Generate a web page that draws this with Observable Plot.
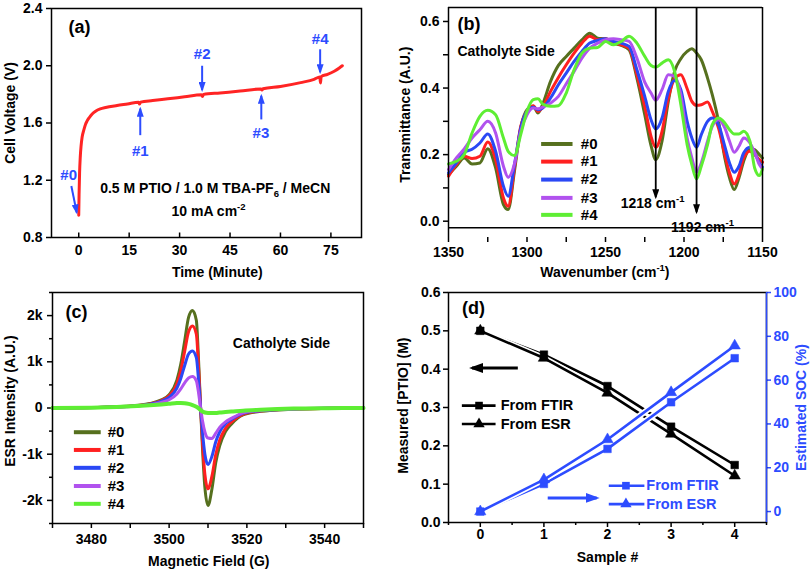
<!DOCTYPE html>
<html><head><meta charset="utf-8">
<script src="https://cdn.jsdelivr.net/npm/d3@7"></script>
<script src="https://cdn.jsdelivr.net/npm/@observablehq/plot@0.6"></script>
<style>
html,body{margin:0;padding:0;background:#fff}
#fig{position:relative;width:810px;height:571px;background:#fff;overflow:hidden}
#fig svg{position:absolute}
</style>
</head><body><div id="fig"></div>
<script>
// ---------------- DATA ----------------
// (a) charging curve
const timeMin = [0, 0.1, 0.25, 0.45, 0.7, 1.0, 1.5, 2.0, 2.5, 3.2, 4.0, 5.0, 6.4, 8.0, 11.4, 14.5, 17.8, 18.1, 18.4, 22.0, 26.5, 31.5, 36.5, 36.8, 37.1, 42.0, 48.0, 54.2, 54.5, 54.8, 60.0, 66.0, 70.0, 71.7, 71.9, 72.1, 74.0, 76.0, 77.5, 78.4];
const cellVoltage = [0.955, 1.10, 1.25, 1.36, 1.44, 1.50, 1.55, 1.59, 1.615, 1.64, 1.663, 1.682, 1.698, 1.708, 1.722, 1.733, 1.745, 1.732, 1.746, 1.757, 1.769, 1.783, 1.797, 1.785, 1.799, 1.810, 1.823, 1.838, 1.830, 1.839, 1.855, 1.882, 1.905, 1.922, 1.880, 1.924, 1.940, 1.962, 1.984, 2.000];
const aXTicks = [0, 15, 30, 45, 60, 75];
const aYTicks = [0.8, 1.2, 1.6, 2.0, 2.4];
const sampleLabels = ["#0", "#1", "#2", "#3", "#4"];
const sampleLabelX = [-3.0, 18.3, 36.7, 54.2, 71.8];
const sampleLabelY = [1.237, 1.403, 2.08, 1.526, 2.185];
const sampleArrowX1 = [-2.2, 18.3, 36.7, 54.3, 71.8];
const sampleArrowY1 = [1.16, 1.515, 2.00, 1.625, 2.115];
const sampleArrowX2 = [-0.6, 18.3, 36.7, 54.3, 71.8];
const sampleArrowY2 = [0.975, 1.70, 1.83, 1.79, 1.955];
const aNoteText = ["0.5 M PTIO / 1.0 M TBA-PF_{6} / MeCN", "10 mA cm^{-2}"];
const aNoteX = [40.6, 38.6];
const aNoteY = [1.145, 0.983];

// (b) FTIR spectra
const wavenumber = [1350, 1345, 1340, 1335, 1330, 1325, 1320, 1315, 1312, 1308, 1304, 1300, 1296, 1293, 1290, 1285, 1280, 1275, 1270, 1265, 1260, 1255, 1250, 1245, 1240, 1235, 1230, 1225, 1221, 1218, 1214, 1210, 1206, 1202, 1198, 1195, 1192, 1189, 1185, 1182, 1178, 1174, 1171, 1168, 1165, 1162, 1158, 1155, 1152, 1150];
const ftir0 = [0.14, 0.165, 0.19, 0.172, 0.175, 0.218, 0.16, 0.05, 0.035, 0.15, 0.28, 0.335, 0.345, 0.325, 0.352, 0.42, 0.468, 0.495, 0.52, 0.545, 0.565, 0.55, 0.548, 0.535, 0.528, 0.515, 0.43, 0.32, 0.227, 0.185, 0.24, 0.36, 0.45, 0.488, 0.51, 0.518, 0.505, 0.485, 0.43, 0.38, 0.30, 0.19, 0.13, 0.095, 0.13, 0.18, 0.218, 0.215, 0.2, 0.19];
const ftir1 = [0.135, 0.17, 0.195, 0.188, 0.195, 0.238, 0.185, 0.07, 0.045, 0.16, 0.285, 0.33, 0.347, 0.33, 0.343, 0.39, 0.432, 0.47, 0.505, 0.535, 0.556, 0.545, 0.548, 0.537, 0.53, 0.52, 0.44, 0.345, 0.255, 0.222, 0.27, 0.37, 0.428, 0.44, 0.398, 0.36, 0.348, 0.35, 0.358, 0.33, 0.28, 0.2, 0.145, 0.112, 0.14, 0.19, 0.21, 0.2, 0.185, 0.177];
const ftir2 = [0.145, 0.175, 0.207, 0.216, 0.235, 0.262, 0.21, 0.105, 0.075, 0.17, 0.28, 0.33, 0.342, 0.335, 0.34, 0.37, 0.41, 0.445, 0.48, 0.51, 0.535, 0.543, 0.548, 0.54, 0.535, 0.525, 0.455, 0.375, 0.305, 0.277, 0.31, 0.39, 0.423, 0.395, 0.3, 0.25, 0.222, 0.26, 0.3, 0.31, 0.29, 0.225, 0.175, 0.147, 0.165, 0.205, 0.222, 0.205, 0.175, 0.162];
const ftir3 = [0.155, 0.19, 0.217, 0.25, 0.275, 0.3, 0.265, 0.165, 0.132, 0.172, 0.27, 0.32, 0.34, 0.338, 0.343, 0.355, 0.375, 0.413, 0.45, 0.49, 0.52, 0.535, 0.545, 0.548, 0.545, 0.54, 0.49, 0.418, 0.385, 0.363, 0.395, 0.44, 0.435, 0.38, 0.25, 0.19, 0.147, 0.175, 0.24, 0.285, 0.305, 0.28, 0.24, 0.207, 0.225, 0.25, 0.235, 0.207, 0.17, 0.157];
const ftir4 = [0.172, 0.18, 0.2, 0.265, 0.315, 0.333, 0.32, 0.25, 0.21, 0.197, 0.26, 0.33, 0.365, 0.368, 0.352, 0.345, 0.347, 0.385, 0.455, 0.505, 0.52, 0.522, 0.54, 0.53, 0.54, 0.556, 0.535, 0.495, 0.468, 0.463, 0.475, 0.485, 0.45, 0.35, 0.23, 0.17, 0.127, 0.165, 0.23, 0.29, 0.31, 0.295, 0.275, 0.262, 0.262, 0.27, 0.24, 0.16, 0.137, 0.157];
const bXTicks = [1350, 1300, 1250, 1200, 1150];
const bXMinor = [1325, 1275, 1225, 1175];
const bYTicks = [0.0, 0.2, 0.4, 0.6];
const bYMinor = [0.1, 0.3, 0.5];
const peakLabels = ["1218 cm^{-1}", "1192 cm^{-1}"];
const peakWn = [1218, 1192];
const peakTipY = [0.072, 0.027];
const peakLabelX = [1220, 1188.2];
const peakLabelY = [0.052, -0.018];
const bLegendY = [0.232, 0.179, 0.125, 0.070, 0.019];

// (c) ESR spectra
const field = [3470, 3480, 3489, 3495, 3498, 3500, 3502, 3503, 3504, 3505, 3506, 3507, 3507.6, 3508.1, 3508.6, 3509.2, 3510, 3511, 3512, 3513, 3514.5, 3516, 3519, 3523.5, 3532, 3541, 3550];
const esr0 = [0, 10, 36, 96, 175, 290, 600, 950, 1450, 1960, 2110, 1900, 980, 0, -900, -1720, -2110, -1760, -1180, -820, -510, -350, -150, -73, -25, -8, 0];
const esr1 = [0, 9, 33, 88, 160, 265, 520, 810, 1230, 1650, 1775, 1600, 830, 0, -760, -1440, -1750, -1480, -1010, -700, -440, -305, -135, -66, -23, -7, 0];
const esr2 = [0, 9, 30, 80, 145, 230, 430, 640, 920, 1170, 1235, 1090, 570, 0, -540, -1000, -1225, -1050, -730, -520, -340, -250, -115, -58, -21, -6, 0];
const esr3 = [0, 8, 27, 70, 120, 178, 305, 415, 545, 650, 680, 590, 310, 0, -280, -520, -650, -660, -545, -420, -300, -225, -105, -53, -19, -6, 0];
const esr4 = [0, 5, 30, 60, 78, 92, 106, 110, 104, 88, 62, 25, -8, -45, -75, -98, -108, -110, -106, -98, -88, -78, -57, -38, -13, -4, 0];
const cXTicks = [3480, 3500, 3520, 3540];
const cXMinor = [3470, 3490, 3510, 3530, 3550];
const cYTicks = [-2000, -1000, 0, 1000, 2000];
const cYMinor = [-2500, -1500, -500, 500, 1500, 2500];
const cLegendY = [-524, -908, -1295, -1688, -2074];

// (d) concentration / SOC
const sampleNo = [0, 1, 2, 3, 4];
const ptioFTIR = [0.500, 0.438, 0.356, 0.250, 0.150];
const ptioESR = [0.500, 0.429, 0.338, 0.231, 0.122];
const socFTIR = [0, 12.6, 28.6, 49.9, 70.0];
const socESR = [0, 14.6, 32.9, 54.4, 75.7];
const dXTicks = [0, 1, 2, 3, 4];
const dXMinor = [-0.5, 0.5, 1.5, 2.5, 3.5, 4.5];
const dYTicks = [0, 0.1, 0.2, 0.3, 0.4, 0.5, 0.6];
const socTicks = [0, 20, 40, 60, 80, 100];
const socDomain = [-5, 100];
const methods = ["From FTIR", "From ESR"];
const dLegendBlackY = [0.305, 0.257];
const dLegendBlueSOC = [11.8, 3.4];

// ---------------- STYLE ----------------
const FONT = "'Liberation Sans', Arial, Helvetica, sans-serif";
const STYLE = {fontFamily: FONT, fontSize: "14px", fontWeight: "bold", background: "transparent", overflow: "visible", color: "#000"};
const RED = "#ff2424";
const BLUE = "#2d4cff";
const SERIES_COLORS = ["#56701e", "#ff2020", "#2a48f5", "#b152ee", "#5eee33"];
const TICK_UP = {draw(ctx, size) { const l = Math.sqrt(size / Math.PI); ctx.moveTo(0, 0); ctx.lineTo(0, -l); }};
const socToY = s => (s - socDomain[0]) / (socDomain[1] - socDomain[0]) * 0.6;
const yToSoc = v => v / 0.6 * (socDomain[1] - socDomain[0]) + socDomain[0];

// ---------------- HELPERS ----------------
let markerCount = 0;
function fixArrowheads(svg, len, wid, back) {
  const sel = d3.select(svg);
  let defs = sel.select("defs");
  if (defs.empty()) defs = sel.insert("defs", ":first-child");
  sel.selectAll("[marker-end]").each(function () {
    const color = this.getAttribute("stroke") || (this.parentNode && this.parentNode.getAttribute("stroke")) || "black";
    const id = "ah" + (++markerCount);
    defs.append("marker").attr("id", id)
      .attr("viewBox", `0 0 ${len} ${wid}`).attr("refX", len - back).attr("refY", wid / 2)
      .attr("markerWidth", len).attr("markerHeight", wid)
      .attr("markerUnits", "userSpaceOnUse").attr("orient", "auto")
      .append("path").attr("d", `M0,0L${len},${wid / 2}L0,${wid}Z`).attr("fill", color);
    this.setAttribute("marker-end", `url(#${id})`);
  });
}
function richText(svg) {
  d3.select(svg).selectAll("text").each(function () {
    const s = this.textContent;
    if (!/[\^_]\{/.test(s)) return;
    const fs = parseFloat(getComputedStyle(this).fontSize) || 14;
    const el = d3.select(this);
    el.text(null);
    const re = /([\^_])\{([^}]*)\}|([^\^_]+)/g;
    let m, shift = 0;
    while ((m = re.exec(s))) {
      if (m[3] !== undefined) {
        el.append("tspan").attr("dy", -shift).text(m[3]);
        shift = 0;
      } else {
        const d = m[1] === "^" ? -0.42 * fs : 0.3 * fs;
        el.append("tspan").attr("dy", d - shift).attr("font-size", fs * 0.68).text(m[2]);
        shift = d;
      }
    }
  });
}
const fig = document.getElementById("fig");
function place(svg, left, top) {
  svg.style.left = left + "px";
  svg.style.top = top + "px";
  fig.appendChild(svg);
  richText(svg);
  return svg;
}
const xLabel = (text, x, dy) => Plot.text([text], {x, frameAnchor: "bottom", dy, lineAnchor: "middle", textAnchor: "middle", text: d => d});
const yLabel = (text, y, side, dx, fill = "black") => Plot.text([text], {y, frameAnchor: side, rotate: -90, dx, textAnchor: "middle", lineAnchor: "middle", fill, text: d => d});

// ---------------- PANEL (a) ----------------
const aRows = timeMin.map((t, i) => ({t, v: cellVoltage[i]}));
const aAnn = sampleLabels.map((s, i) => ({s, x: sampleLabelX[i], y: sampleLabelY[i], x1: sampleArrowX1[i], y1: sampleArrowY1[i], x2: sampleArrowX2[i], y2: sampleArrowY2[i]}));
const aNotes = aNoteText.map((s, i) => ({s, x: aNoteX[i], y: aNoteY[i]}));
const svgA = Plot.plot({
  width: 405, height: 285, marginLeft: 51, marginRight: 44, marginTop: 8, marginBottom: 48,
  x: {domain: [-8.1, 84.1]}, y: {domain: [0.8, 2.4]},
  style: STYLE,
  marks: [
    Plot.axisX(aXTicks, {tickSize: 0, tickPadding: 8, tickFormat: d => String(d), label: null}),
    Plot.dot(aXTicks, {x: d => d, frameAnchor: "bottom", symbol: TICK_UP, r: 5, stroke: "black", strokeWidth: 1.5, fill: "none"}),
    Plot.axisY(aYTicks, {tickSize: 5, tickPadding: 4, strokeWidth: 1.5, tickFormat: d3.format(".1f"), label: null}),
    Plot.line(aRows, {x: "t", y: "v", stroke: RED, strokeWidth: 3, curve: "monotone-x"}),
    Plot.link(aAnn, {x1: "x1", y1: "y1", x2: "x2", y2: "y2", stroke: BLUE, strokeWidth: 2, markerEnd: "arrow"}),
    Plot.text(aAnn, {x: "x", y: "y", text: "s", fill: BLUE, fontSize: 15}),
    Plot.text(aNotes, {x: "x", y: "y", text: "s", fontSize: 14}),
    Plot.text(["(a)"], {x: 0.2, y: 2.266, text: d => d, fontSize: 18}),
    Plot.frame({strokeWidth: 1.5}),
    xLabel("Time (Minute)", 41.2, 35),
    yLabel("Cell Voltage (V)", 1.67, "left", -41)
  ]
});
place(svgA, 0, 0);
fixArrowheads(svgA, 10, 7, 2);

// ---------------- PANEL (b) ----------------
const ftirAll = [ftir0, ftir1, ftir2, ftir3, ftir4];
const bRows = sampleLabels.flatMap((s, i) => wavenumber.map((w, j) => ({s, w, T: ftirAll[i][j]})));
const bLeg = sampleLabels.map((s, i) => ({s, y: bLegendY[i]}));
const bPeaks = peakWn.map((w, i) => ({w, tip: peakTipY[i], label: peakLabels[i], lx: peakLabelX[i], ly: peakLabelY[i]}));
const bYDomain = [-0.049, 0.642];
const svgB = Plot.plot({
  width: 405, height: 285, marginLeft: 43, marginRight: 48, marginTop: 7, marginBottom: 48,
  x: {domain: [1350, 1150]}, y: {domain: bYDomain},
  color: {domain: sampleLabels, range: SERIES_COLORS},
  style: STYLE,
  marks: [
    Plot.axisX(bXTicks, {tickSize: 5, tickPadding: 5, strokeWidth: 1.5, tickFormat: d => String(d), label: null}),
    Plot.axisX(bXMinor, {tickSize: 5, strokeWidth: 1.5, tickFormat: () => "", label: null}),
    Plot.axisY(bYTicks, {tickSize: 5, tickPadding: 4, strokeWidth: 1.5, tickFormat: d3.format(".1f"), label: null}),
    Plot.axisY(bYMinor, {tickSize: 5, strokeWidth: 1.5, tickFormat: () => "", label: null}),
    Plot.line(bRows, {x: "w", y: "T", z: "s", stroke: "s", strokeWidth: 3, curve: "monotone-x"}),
    Plot.link(bPeaks, {x1: "w", x2: "w", y1: bYDomain[1], y2: "tip", stroke: "black", strokeWidth: 1.8, markerEnd: "arrow"}),
    Plot.text(bPeaks, {x: "lx", y: "ly", text: "label", fontSize: 14}),
    Plot.link(bLeg, {x1: 1291, x2: 1271, y1: "y", y2: "y", stroke: "s", strokeWidth: 4}),
    Plot.text(bLeg, {x: 1265.7, y: "y", text: "s", textAnchor: "start", fontSize: 15}),
    Plot.text(["(b)"], {x: 1337, y: 0.593, text: d => d, fontSize: 18}),
    Plot.text(["Catholyte Side"], {x: 1344.3, y: 0.511, text: d => d, textAnchor: "start", fontSize: 14}),
    Plot.ruleX([1350, 1150], {strokeWidth: 1.5}),
    Plot.ruleY([bYDomain[1], -0.020], {strokeWidth: 1.5}),
    xLabel("Wavenumber (cm^{-1})", 1250.4, 35),
    yLabel("Transmittance (A.U.)", 0.32, "left", -43)
  ]
});
place(svgB, 405, 0);
fixArrowheads(svgB, 10, 7, 2);

// ---------------- PANEL (c) ----------------
const esrAll = [esr0, esr1, esr2, esr3, esr4];
const cRows = sampleLabels.flatMap((s, i) => field.map((f, j) => ({s, f, v: esrAll[i][j]})));
const cLeg = sampleLabels.map((s, i) => ({s, y: cLegendY[i]}));
const kFormat = v => v === 0 ? "0" : (v / 1000) + "k";
const svgC = Plot.plot({
  width: 405, height: 286, marginLeft: 52, marginRight: 42, marginTop: 7, marginBottom: 48,
  x: {domain: [3470, 3550]}, y: {domain: [-2500, 2500]},
  color: {domain: sampleLabels, range: SERIES_COLORS},
  style: STYLE,
  marks: [
    Plot.axisX(cXTicks, {tickSize: 5, tickPadding: 6, strokeWidth: 1.5, tickFormat: d => String(d), label: null}),
    Plot.axisX(cXMinor, {tickSize: 5, strokeWidth: 1.5, tickFormat: () => "", label: null}),
    Plot.axisY(cYTicks, {tickSize: 5, tickPadding: 5, strokeWidth: 1.5, tickFormat: kFormat, label: null}),
    Plot.axisY(cYMinor, {tickSize: 3, strokeWidth: 1.5, tickFormat: () => "", label: null}),
    Plot.line(cRows.filter(d => d.s !== "#4"), {x: "f", y: "v", z: "s", stroke: "s", strokeWidth: 3, curve: "monotone-x"}),
    Plot.line(cRows.filter(d => d.s === "#4"), {x: "f", y: "v", z: "s", stroke: "s", strokeWidth: 4, curve: "monotone-x"}),
    Plot.link(cLeg, {x1: 3475.5, x2: 3482.4, y1: "y", y2: "y", stroke: "s", strokeWidth: 4}),
    Plot.text(cLeg, {x: 3484.2, y: "y", text: "s", textAnchor: "start", fontSize: 15}),
    Plot.text(["(c)"], {x: 3476.2, y: 2074, text: d => d, fontSize: 18}),
    Plot.text(["Catholyte Side"], {x: 3528.9, y: 1406, text: d => d, fontSize: 14}),
    Plot.frame({strokeWidth: 1.5}),
    xLabel("Magnetic Field (G)", 3510.2, 38),
    yLabel("ESR Intensity (A.U.)", 150, "left", -42)
  ]
});
place(svgC, 0, 285);

// ---------------- PANEL (d) ----------------
const dConc = methods.map((m, k) => sampleNo.map((n, i) => ({m, n, y: (k === 0 ? ptioFTIR : ptioESR)[i]})));
const dSoc = methods.map((m, k) => sampleNo.map((n, i) => ({m, n, y: socToY((k === 0 ? socFTIR : socESR)[i])})));
const dLegBlack = methods.map((m, k) => ({m, y: dLegendBlackY[k]}));
const dLegBlue = methods.map((m, k) => ({m, y: socToY(dLegendBlueSOC[k])}));
const SYMBOLS = {"From FTIR": "square", "From ESR": "triangle"};
const SYMR = {"From FTIR": 4.3, "From ESR": 4.2};
function seriesMarks(groups, color) {
  const out = [];
  groups.forEach(g => {
    out.push(Plot.line(g, {x: "n", y: "y", stroke: "white", strokeWidth: 6}));
    out.push(Plot.line(g, {x: "n", y: "y", stroke: color, strokeWidth: 2.6}));
  });
  groups.forEach(g => {
    out.push(Plot.dot(g, {x: "n", y: "y", symbol: SYMBOLS[g[0].m], r: SYMR[g[0].m], fill: color, stroke: color, strokeWidth: 0.5}));
  });
  return out;
}
function legendMarks(rows, color, x1, x2, xm, xt) {
  return [
    Plot.link(rows, {x1, x2, y1: "y", y2: "y", stroke: color, strokeWidth: 2.6}),
    ...rows.map(r => Plot.dot([r], {x: xm, y: "y", symbol: SYMBOLS[r.m], r: SYMR[r.m], fill: color})),
    Plot.text(rows, {x: xt, y: "y", text: "m", textAnchor: "start", fill: color, fontSize: 14.5})
  ];
}
const svgD = Plot.plot({
  width: 405, height: 286, marginLeft: 43, marginRight: 44, marginTop: 7, marginBottom: 49,
  x: {domain: [-0.5, 4.5]}, y: {domain: [0, 0.6]},
  style: STYLE,
  marks: [
    Plot.axisX(dXTicks, {tickSize: 5, tickPadding: 2, strokeWidth: 1.5, tickFormat: d => String(d), label: null}),
    Plot.axisX(dXMinor, {tickSize: 3, strokeWidth: 1.5, tickFormat: () => "", label: null}),
    Plot.axisY(dYTicks, {tickSize: 5, tickPadding: 3, strokeWidth: 1.5, tickFormat: d3.format(".1f"), label: null}),
    Plot.axisY(socTicks.map(socToY), {anchor: "right", tickSize: 4, tickPadding: 3, strokeWidth: 1.5, stroke: BLUE, fill: BLUE, tickFormat: v => String(Math.round(yToSoc(v))), label: null}),
    ...seriesMarks(dConc, "black"),
    ...seriesMarks(dSoc, BLUE),
    ...legendMarks(dLegBlack, "black", -0.29, 0.24, -0.02, 0.32),
    ...legendMarks(dLegBlue, BLUE, 2.02, 2.58, 2.29, 2.61),
    Plot.link([{x1: 0.59, x2: -0.13, y: 0.403}], {x1: "x1", x2: "x2", y1: "y", y2: "y", stroke: "black", strokeWidth: 3, markerEnd: "arrow"}),
    Plot.link([{x1: 1.06, x2: 1.83, y: socToY(6.2)}], {x1: "x1", x2: "x2", y1: "y", y2: "y", stroke: BLUE, strokeWidth: 3, markerEnd: "arrow"}),
    Plot.text(["(d)"], {x: -0.106, y: 0.558, text: d => d, fontSize: 18}),
    Plot.frame({strokeWidth: 1.5}),
    Plot.ruleX([4.5], {stroke: BLUE, strokeWidth: 1.5}),
    xLabel("Sample #", 2.0, 35),
    yLabel("Measured [PTIO] (M)", 0.305, "left", -45),
    yLabel("Estimated SOC (%)", 0.30, "right", 35, BLUE)
  ]
});
place(svgD, 405, 285);
fixArrowheads(svgD, 14, 10, 3);
</script>
</body></html>
